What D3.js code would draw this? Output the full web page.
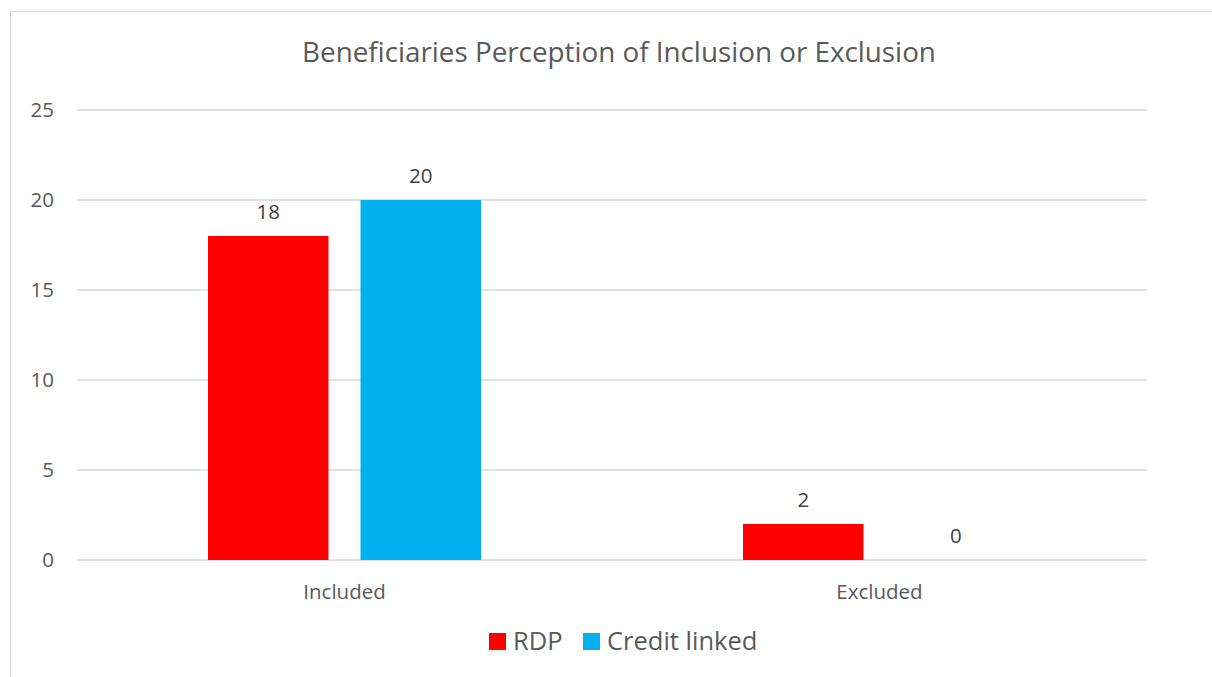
<!DOCTYPE html>
<html>
<head>
<meta charset="utf-8">
<script src="https://cdn.jsdelivr.net/npm/d3@7"></script>
<style>
  body { margin: 0; background: #fff; }
  text { font-family: "Open Sans", sans-serif; }
</style>
</head>
<body>
<div id="chart"></div>
<script>
// chart data
var categories = ["Included", "Excluded"];
var seriesNames = ["RDP", "Credit linked"];
var rdpValues = [18, 2];
var creditValues = [20, 0];
var yTicks = [0, 5, 10, 15, 20, 25];
var titleText = "Beneficiaries Perception of Inclusion or Exclusion";

var colors = ["#ff0000", "#00b0f0"];

var width = 1212, height = 677;
var margin = {top: 110, right: 65, bottom: 117, left: 77};

var svg = d3.select("#chart")
    .append("svg")
        .attr("width", width)
        .attr("height", height);

// chart border (right and bottom sides fall outside the picture)
svg.append("rect")
    .attr("x", 10.5)
    .attr("y", 11.5)
    .attr("width", 1400)
    .attr("height", 1000)
    .attr("fill", "none")
    .attr("stroke", "#d9d9d9")
    .attr("stroke-width", 1.3);

// title
svg.append("text")
    .attr("x", 619)
    .attr("y", 62)
    .attr("text-anchor", "middle")
    .attr("fill", "#595959")
    .style("font-size", "27.8px")
    .text(titleText);

// scales
var x0 = d3.scaleBand()
    .domain(categories)
    .range([margin.left, width - margin.right]);

var x1 = d3.scaleBand()
    .domain(seriesNames)
    .range([131, x0.bandwidth() - 131])
    .paddingInner(0.21);

var y = d3.scaleLinear()
    .domain([0, 25])
    .range([height - margin.bottom, margin.top]);

// gridlines
svg.append("g")
    .selectAll("line")
    .data(yTicks)
    .enter()
    .append("line")
        .attr("x1", margin.left)
        .attr("x2", width - margin.right)
        .attr("y1", function(d) {return y(d)})
        .attr("y2", function(d) {return y(d)})
        .attr("stroke", "#d9d9d9")
        .attr("stroke-width", 1.5);

// y axis labels
svg.append("g")
    .selectAll("text")
    .data(yTicks)
    .enter()
    .append("text")
        .attr("x", 54)
        .attr("y", function(d) {return y(d)})
        .attr("dy", "0.36em")
        .attr("text-anchor", "end")
        .attr("fill", "#595959")
        .style("font-size", "20.5px")
        .text(function(d) {return d});

// build rows for the bars
var rows = categories.map(function(c, i) {
    return {category: c, values: [
        {name: seriesNames[0], value: rdpValues[i]},
        {name: seriesNames[1], value: creditValues[i]}
    ]};
});

var groups = svg.selectAll("theGroups")
    .data(rows)
    .enter()
    .append("g")
        .attr("transform", function(d) {return "translate(" + x0(d.category) + ",0)"});

groups.selectAll("rect")
    .data(function(d) {return d.values})
    .enter()
    .append("rect")
        .attr("x", function(d) {return x1(d.name)})
        .attr("y", function(d) {return y(d.value)})
        .attr("width", x1.bandwidth())
        .attr("height", function(d) {return y(0) - y(d.value)})
        .attr("fill", function(d, i) {return colors[i]});

// data labels
groups.selectAll("text")
    .data(function(d) {return d.values})
    .enter()
    .append("text")
        .attr("x", function(d) {return x1(d.name) + x1.bandwidth() / 2})
        .attr("y", function(d) {return y(d.value) - 17})
        .attr("text-anchor", "middle")
        .attr("fill", "#404040")
        .style("font-size", "20.5px")
        .text(function(d) {return d.value});

// category labels
svg.append("g")
    .selectAll("text")
    .data(categories)
    .enter()
    .append("text")
        .attr("x", function(d) {return x0(d) + x0.bandwidth() / 2})
        .attr("y", 599)
        .attr("text-anchor", "middle")
        .attr("fill", "#595959")
        .style("font-size", "20.5px")
        .text(function(d) {return d});

// legend
var legendX = [489, 583];
var legend = svg.selectAll("theLegend")
    .data(seriesNames)
    .enter()
    .append("g");

legend.append("rect")
    .attr("x", function(d, i) {return legendX[i]})
    .attr("y", 633)
    .attr("width", 17)
    .attr("height", 17)
    .attr("fill", function(d, i) {return colors[i]});

legend.append("text")
    .attr("x", function(d, i) {return legendX[i] + 24})
    .attr("y", 650)
    .attr("fill", "#595959")
    .style("font-size", "25.5px")
    .text(function(d) {return d});
</script>
</body>
</html>
